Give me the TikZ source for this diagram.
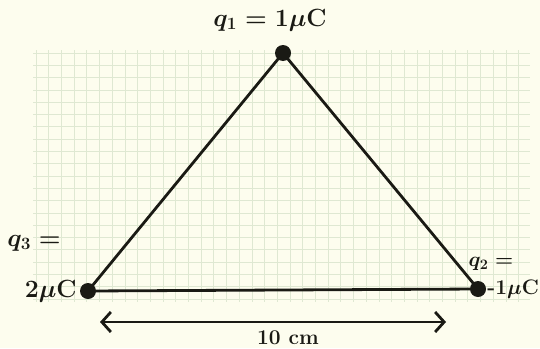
\documentclass[tikz,border=0pt]{standalone}
\usepackage{amsmath,amssymb}
\usepackage{tikz}
\usetikzlibrary{arrows.meta,positioning}
\definecolor{paper}{HTML}{FDFDEE}
\definecolor{gridcol}{HTML}{DFE8D2}
\definecolor{ink}{HTML}{1A1A14}

\begin{document}
\begin{tikzpicture}[
  x=1pt, y=-1pt,
  font=\fontsize{24}{28}\selectfont\bfseries\boldmath,
  charge/.style={circle, fill=ink, inner sep=0pt, minimum size=16pt},
  side/.style={draw=ink, line width=2.8pt},
  lbl/.style={text=ink, inner sep=1pt},
  small/.style={font=\fontsize{21}{24}\selectfont\bfseries\boldmath},
  arr/.style={draw=ink, line width=2.8pt,
    {Straight Barb[length=9pt, width=20pt, line width=2.8pt]}-{Straight Barb[length=9pt, width=20pt, line width=2.8pt]}}
]
\fill[paper] (0,0) rectangle (540,348);
\useasboundingbox (0,0) rectangle (540,348);
% graph paper
\foreach \gx in {36,48.7,...,530}
  \draw[gridcol, line width=0.8pt] (\gx,50) -- (\gx,302);
\foreach \gy in {53,65.3,...,302}
  \draw[gridcol, line width=0.8pt] (33,\gy) -- (530,\gy);

% charges
\node[charge] (q1) at (283,53) {};
\node[charge] (q3) at (88,291) {};
\node[charge] (q2) at (478,289) {};
\draw[side] (q1.center) -- (q3.center) -- (q2.center) -- cycle;

\node[lbl] (l1) at (270,20) {$q_1 = 1\mu\mathrm{C}$};
\node[lbl, left=2pt of q3] (l3b) {$2\mu\mathrm{C}$};
\node[lbl] (l3a) at (34,243) {$q_3 =$};
\node[lbl, small, right=0pt of q2] (l2b) {-1$\mu$C};
\node[lbl, small] (l2a) at (491,264) {$q_2 =$};

% distance
\coordinate (al) at (100,322);
\coordinate (ar) at (446,322);
\draw[arr] (al) -- (ar);
\node[lbl, small] (d) at (288,338) {10 cm};
\end{tikzpicture}
\end{document}
